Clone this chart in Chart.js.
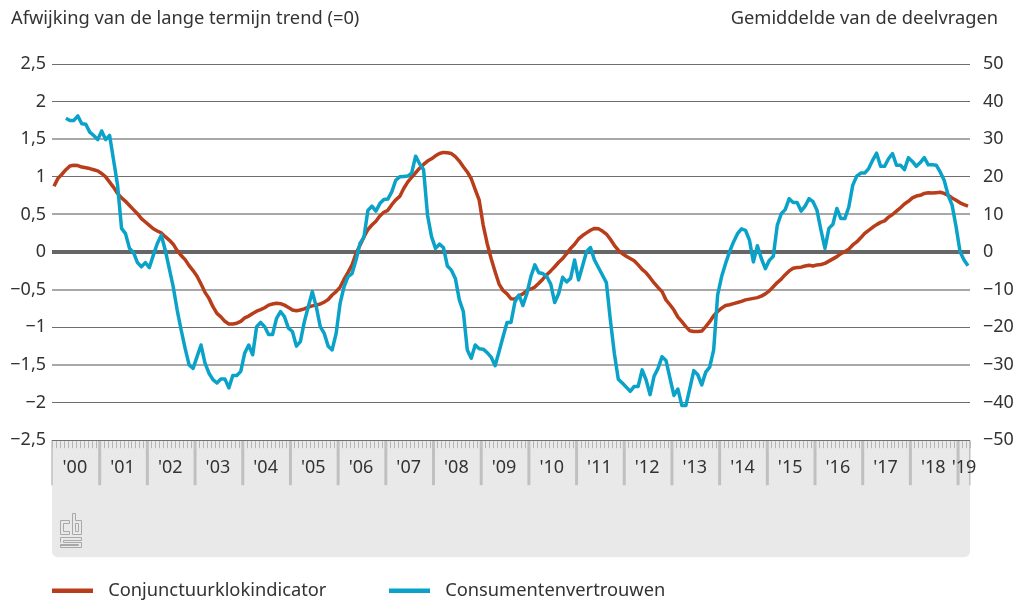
<!DOCTYPE html>
<html><head><meta charset="utf-8">
<style>html,body{margin:0;padding:0;background:#fff}#w{width:1015px;height:601px;position:relative}</style>
<script src="https://cdn.jsdelivr.net/npm/chart.js@4"></script>
</head><body><div id="w"><canvas id="c"></canvas></div>
<script>
const yearLabels=["'00","'01","'02","'03","'04","'05","'06","'07","'08","'09","'10","'11","'12","'13","'14","'15","'16","'17","'18","'19"];
const leftTicks=[2.5,2,1.5,1,0.5,0,-0.5,-1,-1.5,-2,-2.5];
const leftTitle="Afwijking van de lange termijn trend (=0)";
const rightTitle="Gemiddelde van de deelvragen";
// monthly, Jan 2000 - Mar 2019
const klok=[0.875,0.98,1.035,1.095,1.145,1.155,1.15,1.13,1.12,1.11,1.095,1.08,1.045,1.0,0.93,0.86,0.78,0.72,0.675,0.62,0.565,0.51,0.445,0.40,0.355,0.31,0.28,0.255,0.205,0.16,0.105,0.02,-0.045,-0.1,-0.18,-0.245,-0.32,-0.425,-0.535,-0.615,-0.725,-0.815,-0.86,-0.92,-0.955,-0.955,-0.945,-0.92,-0.875,-0.85,-0.815,-0.785,-0.765,-0.74,-0.705,-0.69,-0.68,-0.685,-0.705,-0.735,-0.77,-0.78,-0.77,-0.755,-0.73,-0.715,-0.705,-0.69,-0.665,-0.63,-0.57,-0.525,-0.465,
-0.36,-0.27,-0.17,-0.02,0.09,0.2,0.30,0.36,0.41,0.48,0.53,0.555,0.63,0.695,0.74,0.845,0.93,0.995,1.055,1.115,1.165,1.21,1.24,1.28,1.31,1.325,1.32,1.31,1.27,1.21,1.135,1.065,0.975,0.83,0.69,0.36,0.115,-0.085,-0.26,-0.425,-0.51,-0.555,-0.62,-0.625,-0.58,-0.555,-0.51,-0.49,-0.465,-0.415,-0.36,-0.30,-0.25,-0.195,-0.135,-0.085,-0.02,0.05,0.105,0.175,0.22,0.255,0.29,0.315,0.31,0.28,0.24,0.17,0.09,0.025,-0.02,-0.055,-0.085,-0.115,-0.17,-0.23,-0.275,
-0.34,-0.41,-0.47,-0.525,-0.635,-0.70,-0.77,-0.865,-0.925,-0.99,-1.045,-1.055,-1.055,-1.05,-0.99,-0.925,-0.845,-0.79,-0.745,-0.71,-0.70,-0.685,-0.67,-0.655,-0.635,-0.625,-0.615,-0.605,-0.585,-0.555,-0.515,-0.46,-0.405,-0.36,-0.30,-0.25,-0.215,-0.205,-0.2,-0.185,-0.175,-0.185,-0.17,-0.165,-0.15,-0.12,-0.09,-0.06,-0.02,0.005,0.04,0.095,0.135,0.19,0.25,0.29,0.33,0.365,0.395,0.415,0.465,0.50,0.545,0.59,0.64,0.675,0.72,0.745,0.755,0.78,0.79,0.785,0.79,0.795,0.78,0.755,0.72,0.69,0.655,0.63,0.61];
const vertrouwen=[null,null,null,35.6,35,35,36.2,34.1,34,31.9,31,29.9,32.2,29.9,31,24.4,17.8,6.3,4.9,1.0,-0.1,-2.8,-3.9,-2.8,-4.1,-0.8,2.3,4.5,0.5,-4.3,-9.2,-15.4,-20.7,-25.6,-30,-30.9,-27.8,-24.7,-29.5,-32.2,-33.9,-34.8,-33.7,-33.7,-36.1,-32.8,-32.8,-31.7,-26.8,-24.7,-27.3,-19.8,-18.7,-19.8,-21.9,-21.9,-17.6,-15.8,-17.2,-20.2,-21.1,-25,-23.8,-18.5,-14.5,-10.5,-14.5,-19.8,-21.6,-25,-26,-21.6,-13.6,-9.2,-6.5,-5.7,-2.1,2.3,
4.0,11.1,12.2,10.9,12.9,14,14.1,16,19.1,20,20.1,20.2,21,25.5,23.5,21.9,9.8,4.1,1,2.1,1.2,-3.7,-4.8,-7,-12.7,-15.8,-26,-28.2,-24.7,-25.7,-25.8,-26.7,-27.9,-30.2,-26.4,-22.5,-18.7,-18.7,-13.2,-11.4,-14.2,-11,-6.5,-3.4,-5.5,-5.7,-6.5,-8.5,-13.4,-11,-6.7,-7.9,-7,-2.1,-7.4,-3.7,0.1,1.2,-2.1,-4.1,-6.1,-8.1,-18,-26.9,-33.8,-34.8,-35.9,-37,-35.7,-35.7,-31.3,-34,
-37.9,-33,-30.9,-27.8,-28.8,-33.5,-38.1,-36.4,-40.8,-40.8,-36.2,-31.5,-32.6,-35.3,-31.9,-30.6,-26,-11.4,-6.5,-3,0.1,2.7,4.9,6.2,5.8,3.2,-2.6,1.7,-1.7,-4.4,-2.2,-1.1,7.1,10.2,11.3,14.2,13.2,13.2,10.9,12.2,14.2,13.4,11.1,5.8,1,6.3,7.4,11.6,8.9,8.9,12,17.8,20.2,21,21,22.2,24.4,26.3,22.8,22.8,24.8,26.2,23.1,23.1,21.9,25.1,24.1,22.8,23.8,25.1,23.2,23.2,23.1,21.3,19.1,15.1,12.5,6.7,0.1,-2.1,-3.6];
const RED='#b83d1a',BLUE='#0aa2c8',INK='#333333',FONT='"Noto Sans", sans-serif';
const months=231;
const LEG_X=[52,389],LEG_BOX=41,LEG_SLOT=47,LEG_Y=581.5;
const pts=a=>a.map((v,i)=>({x:i+0.5,y:v}));
const fmt=v=>String(v).replace('.',',').replace('-','\u2212');

const decor={id:'decor',
 beforeDraw(ch){
  const c=ch.ctx,x=ch.scales.x,a=ch.chartArea,b=a.bottom;
  c.save();
  c.fillStyle='#e9e9e9';c.beginPath();c.roundRect(a.left,b,a.right-a.left,117,[0,0,6,6]);c.fill();
  c.fillStyle='#b4b4b4';
  for(let m=0;m<=months;m++){const p=x.getPixelForValue(m);c.fillRect(Math.round(p),b+1,1,7);}
  c.fillStyle='#c0c0c0';
  for(let y=0;y<=19;y++){const p=x.getPixelForValue(y*12);const w=y==0?1.5:3;c.fillRect(p-w/2,b,w,45);}
  c.fillRect(x.getPixelForValue(months)-1,b,1.5,45);
  // logo
  c.strokeStyle='#a8a8a8';c.lineWidth=1;c.translate(0.5,0.5);
  const pl=(q,cl)=>{c.beginPath();q.forEach((p,i)=>i?c.lineTo(p[0],p[1]):c.moveTo(p[0],p[1]));if(cl)c.closePath();c.stroke();};
  pl([[69,520],[60,520],[60,534],[69,534],[69,531],[63,531],[63,523],[69,523]],true);
  pl([[72,513],[75,513],[75,520],[81,520],[81,534],[72,534]],true);
  pl([[75,523],[78,523],[78,531],[75,531]],true);
  pl([[60,537],[81,537],[81,540],[63,540],[63,542],[81,542],[81,547],[60,547],[60,544],[78,544],[78,545],[60,545]]);
  pl([[60,537],[60,542]]);
  c.restore();
  // legend placement: the gap between the two entries is the label padding
  const lg=ch.legend,o=lg.options.labels;
  const f=Chart.helpers.toFont(o.font);
  c.save();c.font=f.string;
  const w=c.measureText(ch.data.datasets[0].label).width;c.restore();
  const P=LEG_X[1]-LEG_X[0]-(LEG_SLOT+f.size/2+w);
  decor._keep=o.padding;
  o.padding=P;
  lg.left=LEG_X[0]-P;lg.top=LEG_Y-P;
 },
 afterDraw(ch){
  const c=ch.ctx;c.save();c.fillStyle=INK;c.font='18.3px '+FONT;c.textBaseline='alphabetic';
  c.textAlign='left';c.fillText(leftTitle,11,24);
  c.textAlign='right';c.fillText(rightTitle,998,24);c.restore();
  ch.legend.options.labels.padding=decor._keep;
 }};

const slotFill=(ctx,color,x)=>{const g=ctx.createLinearGradient(x,0,x+LEG_SLOT,0),t=LEG_BOX/LEG_SLOT;
 g.addColorStop(0,color);g.addColorStop(t,color);g.addColorStop(t,'rgba(0,0,0,0)');g.addColorStop(1,'rgba(0,0,0,0)');return g;};

new Chart(document.getElementById('c'),{type:'line',plugins:[decor],
 data:{datasets:[
  {label:'Conjunctuurklokindicator',data:pts(klok),yAxisID:'y',borderColor:RED,backgroundColor:RED,order:1},
  {label:'Consumentenvertrouwen',data:pts(vertrouwen),yAxisID:'y1',borderColor:BLUE,backgroundColor:BLUE,order:0}]},
 options:{responsive:true,maintainAspectRatio:false,animation:false,events:[],
  layout:{padding:{top:64,left:0,right:0,bottom:0}},
  elements:{point:{radius:0},line:{borderWidth:3.5,tension:0,borderJoinStyle:'round',borderCapStyle:'butt'}},
  scales:{
   x:{type:'linear',min:0,max:months,
    afterFit(s){s.height=117;},
    afterBuildTicks(s){s.ticks=yearLabels.map((l,i)=>({value:i<19?i*12+5.75:229.5}));},
    grid:{display:false},border:{display:false},
    ticks:{autoSkip:false,maxRotation:0,minRotation:0,includeBounds:false,color:INK,padding:9,font:{family:FONT,size:18},
      callback:(v)=>v>228?yearLabels[19]:yearLabels[Math.floor(v/12)]}},
   y:{position:'left',min:-2.5,max:2.5,
    afterFit(s){s.width=52;},
    afterBuildTicks(s){s.ticks=leftTicks.map(v=>({value:v}));},
    border:{display:false},
    grid:{drawTicks:false,
     color:c=>{const v=c.tick.value;return v===0?'#666666':(Number.isInteger(v)||Math.abs(v)===2.5)?'#6e6e6e':'#a8a8a8';},
     lineWidth:c=>{const v=c.tick.value;return v===0?4:(Number.isInteger(v)||Math.abs(v)===2.5)?1:2;}},
    ticks:{color:INK,padding:6,font:{family:FONT,size:18},callback:fmt}},
   y1:{position:'right',min:-50,max:50,
    afterFit(s){s.width=45;},
    grid:{display:false},border:{display:false},
    ticks:{stepSize:10,color:INK,padding:5,font:{family:FONT,size:18},callback:fmt}}
  },
  plugins:{tooltip:{enabled:false},title:{display:false},
   legend:{position:'bottom',align:'start',
    labels:{font:{family:FONT,size:18.3},color:INK,boxWidth:LEG_SLOT,boxHeight:4.5,padding:15.5,
     sort:(a,b)=>a.datasetIndex-b.datasetIndex,
     generateLabels:c=>Chart.defaults.plugins.legend.labels.generateLabels(c).map(l=>({...l,lineWidth:0,fillStyle:slotFill(c.ctx,l.strokeStyle,LEG_X[l.datasetIndex])}))}}}
 }});
</script></body></html>
